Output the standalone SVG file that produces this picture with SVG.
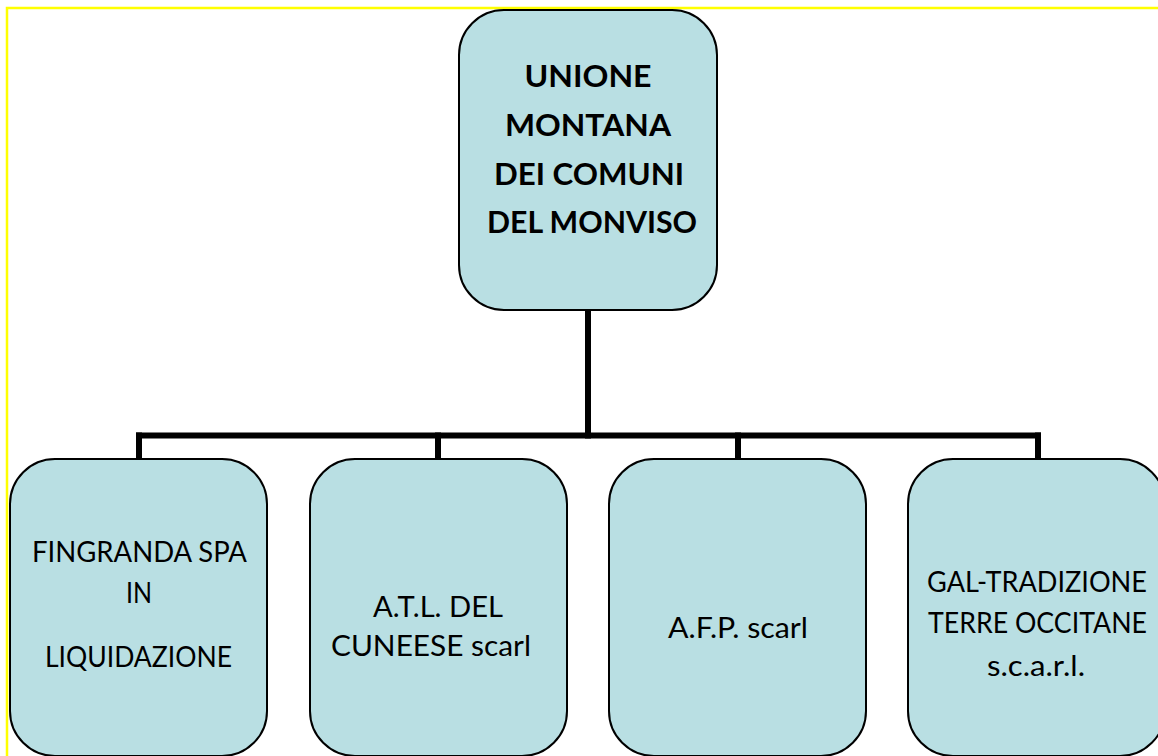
<svg xmlns="http://www.w3.org/2000/svg" width="1158" height="756" viewBox="0 0 1158 756">
<style>
.box{fill:#B9DFE3;stroke:#000;stroke-width:2}
.conn{fill:none;stroke:#000;stroke-width:6;stroke-linecap:square}
.t{font-family:"Lato","Open Sans","Liberation Sans",sans-serif;font-size:28.5px;fill:#000;text-anchor:middle}
.tb{font-family:"Lato","Open Sans","Liberation Sans",sans-serif;font-size:31px;font-weight:bold;fill:#000;text-anchor:middle}
</style>
<rect x="0" y="0" width="1158" height="756" fill="#fff"/>
<path d="M7,756 V8 H1158" fill="none" stroke="#FFFF00" stroke-width="2.5"/>
<g id="connectors">
<path class="conn" d="M588,311 V435.5"/>
<path class="conn" d="M139,435.5 H1038"/>
<path class="conn" d="M139,435.5 V458"/>
<path class="conn" d="M438,435.5 V458"/>
<path class="conn" d="M738,435.5 V458"/>
<path class="conn" d="M1038,435.5 V458"/>
</g>
<g id="node-unione">
<rect class="box" x="459" y="10" width="258" height="300" rx="45" ry="45"/>
<text class="tb" x="588" y="87" textLength="127" lengthAdjust="spacingAndGlyphs">UNIONE</text>
<text class="tb" x="588" y="136" textLength="166" lengthAdjust="spacingAndGlyphs">MONTANA</text>
<text class="tb" x="589" y="185" textLength="190" lengthAdjust="spacingAndGlyphs">DEI COMUNI</text>
<text class="tb" x="592" y="233" textLength="210" lengthAdjust="spacingAndGlyphs">DEL MONVISO</text>
</g>
<g id="node-fingranda">
<rect class="box" x="10" y="459" width="257" height="297" rx="45" ry="45"/>
<text class="t" x="139.5" y="562" textLength="215" lengthAdjust="spacingAndGlyphs">FINGRANDA SPA</text>
<text class="t" x="139" y="603" textLength="26" lengthAdjust="spacingAndGlyphs">IN</text>
<text class="t" x="138.5" y="667" textLength="187" lengthAdjust="spacingAndGlyphs">LIQUIDAZIONE</text>
</g>
<g id="node-atl">
<rect class="box" x="310" y="459" width="257" height="297" rx="45" ry="45"/>
<text class="t" x="438" y="617" textLength="130" lengthAdjust="spacingAndGlyphs">A.T.L. DEL</text>
<text class="t" x="431" y="656" textLength="200" lengthAdjust="spacingAndGlyphs">CUNEESE scarl</text>
</g>
<g id="node-afp">
<rect class="box" x="609" y="459" width="257" height="297" rx="45" ry="45"/>
<text class="t" x="738" y="638" textLength="140" lengthAdjust="spacingAndGlyphs">A.F.P. scarl</text>
</g>
<g id="node-gal">
<rect class="box" x="908" y="459" width="257" height="297" rx="45" ry="45"/>
<text class="t" x="1037" y="592" textLength="220" lengthAdjust="spacingAndGlyphs">GAL-TRADIZIONE</text>
<text class="t" x="1037.5" y="633" textLength="219" lengthAdjust="spacingAndGlyphs">TERRE OCCITANE</text>
<text class="t" x="1036" y="676" textLength="98" lengthAdjust="spacingAndGlyphs">s.c.a.r.l.</text>
</g>
</svg>
